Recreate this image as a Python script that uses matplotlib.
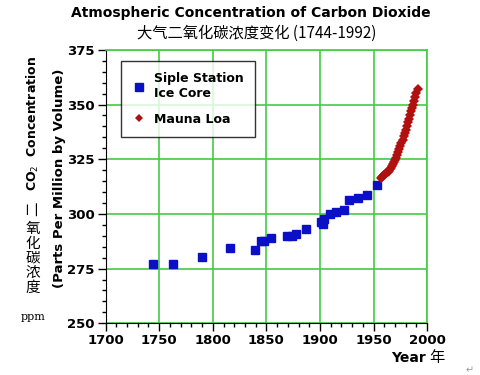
import numpy as np
import matplotlib
matplotlib.use("Agg")
import matplotlib.pyplot as plt
from matplotlib.ticker import MultipleLocator

plt.rcParams['font.family'] = ['DejaVu Sans', 'Noto Sans CJK SC']

# Siple Station ice core (year, ppm)
siple_year = [1744, 1763, 1790, 1816, 1839, 1845, 1848, 1854, 1869, 1874,
              1878, 1887, 1901, 1903, 1904, 1909, 1915, 1922, 1927, 1935,
              1944, 1953]
siple_ppm = [277.3, 277.3, 280.4, 284.5, 283.7, 287.8, 287.4, 288.8, 290.0, 290.0,
             291.0, 292.9, 296.4, 295.3, 297.6, 299.9, 301.0, 302.0, 306.3, 307.4,
             308.6, 313.2]

# Mauna Loa annual readings
mauna_year = list(range(1957, 1992))
mauna_ppm = [316.5, 317.0, 317.5, 317.9, 318.3, 318.6, 319.2, 319.8, 320.4, 321.0,
             321.7, 322.6, 323.6, 324.6, 325.6, 327.0, 328.4, 329.7, 331.0, 332.4,
             333.9, 335.5, 337.0, 338.5, 340.0, 341.8, 343.6, 345.4, 347.2, 348.6,
             350.0, 351.6, 353.4, 355.4, 357.3]

x_ticks = [1700, 1750, 1800, 1850, 1900, 1950, 2000]
y_ticks = [250, 275, 300, 325, 350, 375]

grid_green = '#44cc44'
cjk = ['Noto Sans CJK SC', 'DejaVu Sans']

fig = plt.figure(figsize=(4.8, 3.75), dpi=100)
ax = fig.add_axes([0.220, 0.138, 0.670, 0.729])

ax.plot(siple_year, siple_ppm, 's', color='#0a10c8', markersize=5.5,
        label='Siple Station\nIce Core', zorder=3)
ax.plot(mauna_year, mauna_ppm, 'D', color='#b01010', markersize=5,
        markeredgewidth=0, label='Mauna Loa', zorder=3)

ax.set_xlim(1700, 2000)
ax.set_ylim(250, 375)
ax.set_xticks(x_ticks)
ax.set_yticks(y_ticks)
ax.xaxis.set_minor_locator(MultipleLocator(10))
ax.yaxis.set_minor_locator(MultipleLocator(5))
ax.tick_params(which='major', direction='out', length=6, width=1,
               labelsize=9.5, pad=2)
ax.tick_params(which='minor', direction='out', length=3, width=1)
for lab in ax.get_xticklabels() + ax.get_yticklabels():
    lab.set_fontweight('bold')

ax.grid(True, which='major', color=grid_green, linewidth=1.2)
ax.set_axisbelow(True)
ax.spines['top'].set_color(grid_green)
ax.spines['right'].set_color(grid_green)
ax.spines['top'].set_linewidth(1.2)
ax.spines['right'].set_linewidth(1.2)

leg = ax.legend(loc='upper left', bbox_to_anchor=(0.048, 0.96), frameon=True,
                fancybox=False, shadow=False, edgecolor='black',
                prop={'weight': 'bold', 'size': 9}, handletextpad=0.7,
                borderpad=0.9, labelspacing=1.0, handlelength=1.0,
                borderaxespad=0)
leg.get_frame().set_linewidth(1.0)
leg.legend_handles[1].set_markersize(4)

# titles
fig.text(0.523, 0.965, 'Atmospheric Concentration of Carbon Dioxide',
         ha='center', va='center', fontsize=10, fontweight='bold')
fig.text(0.535, 0.912, '大气二氧化碳浓度变化 (1744-1992)',
         ha='center', va='center', fontsize=11, family=cjk)

# y labels
fig.text(0.069, 0.671, 'CO$_2$  Concentration', rotation=90,
         ha='center', va='center', fontsize=9, fontweight='bold')
fig.text(0.125, 0.525, '(Parts Per Million by Volume)', rotation=90,
         ha='center', va='center', fontsize=9.5, fontweight='bold')
fig.text(0.069, 0.443, '二', rotation=90, ha='center', va='center',
         fontsize=10.5, family=cjk)
fig.text(0.069, 0.311, '氧\n化\n碳\n浓\n度', ha='center', va='center',
         fontsize=10.5, family=cjk, linespacing=1.05)
fig.text(0.069, 0.155, 'ppm', ha='center', va='center', fontsize=8,
         family='DejaVu Serif')

# x label
fig.text(0.850, 0.046, 'Year', ha='center', va='center', fontsize=10,
         fontweight='bold')
fig.text(0.910, 0.046, '年', ha='center', va='center', fontsize=11,
         family=cjk)
fig.text(0.978, 0.012, '↵', ha='center', va='center', fontsize=7,
         color='#999999')

fig.savefig('out.png', dpi=100)
